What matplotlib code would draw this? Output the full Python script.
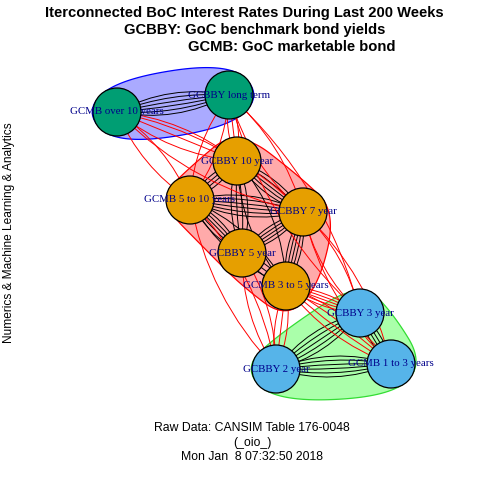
import matplotlib
matplotlib.use("Agg")
import matplotlib.pyplot as plt
import numpy as np
from matplotlib.patches import Circle, Polygon, PathPatch
from matplotlib.path import Path

# graph data
node_names = ["GCMB over 10 years", "GCBBY long term", "GCBBY 10 year",
              "GCMB 5 to 10 years", "GCBBY 7 year", "GCBBY 5 year",
              "GCMB 3 to 5 years", "GCBBY 3 year", "GCBBY 2 year",
              "GCMB 1 to 3 years"]
# layout coordinates (canvas pixels, y down)
node_x = [117, 229, 237, 190, 303, 242, 286, 360, 276, 391]
node_y = [112, 95, 161, 200, 212, 253, 286, 313, 369, 364]
node_group = [0, 0, 1, 1, 1, 1, 1, 2, 2, 2]

# multi-edges: from, to, number of parallel edges
edge_from = [0, 2, 2, 2, 2, 3, 3, 3, 4, 4, 5, 7, 8, 7,
             0, 0, 0, 1, 1, 1, 1, 6, 6, 6, 4, 4, 3, 5]
edge_to = [1, 3, 4, 5, 6, 4, 5, 6, 5, 6, 6, 8, 9, 9,
           2, 3, 4, 2, 3, 4, 7, 7, 9, 8, 7, 9, 8, 8]
edge_count = [6, 4, 5, 4, 2, 6, 5, 2, 5, 5, 3, 5, 6, 4,
              3, 2, 2, 3, 2, 2, 2, 5, 4, 3, 2, 2, 2, 2]

title_lines = ["Iterconnected BoC Interest Rates During Last 200 Weeks",
               "GCBBY: GoC benchmark bond yields",
               "GCMB: GoC marketable bond"]
sub_lines = ["Raw Data: CANSIM Table 176-0048", "(_oio_)", "Mon Jan  8 07:32:50 2018"]
y_label = "Numerics & Machine Learning & Analytics"

group_node_col = ["#009E73", "#E69F00", "#56B4E9"]
group_fill = ["#0000FF55", "#FF000055", "#00FF0055"]
group_border = ["blue", "red", "#33DD33"]

NODE_R = 24
HULL_R = 33


def convex_hull(pts):
    pts = sorted(set(pts))
    def cross(o, a, b):
        return (a[0] - o[0]) * (b[1] - o[1]) - (a[1] - o[1]) * (b[0] - o[0])
    lower, upper = [], []
    for p in pts:
        while len(lower) >= 2 and cross(lower[-2], lower[-1], p) <= 0:
            lower.pop()
        lower.append(p)
    for p in reversed(pts):
        while len(upper) >= 2 and cross(upper[-2], upper[-1], p) <= 0:
            upper.pop()
        upper.append(p)
    return lower[:-1] + upper[:-1]


def chaikin(poly, n_iter=5):
    p = np.asarray(poly, dtype=float)
    for _ in range(n_iter):
        q = np.roll(p, -1, axis=0)
        a = 0.75 * p + 0.25 * q
        b = 0.25 * p + 0.75 * q
        p = np.empty((2 * len(a), 2))
        p[0::2] = a
        p[1::2] = b
    return p


fig = plt.figure(figsize=(4.8, 4.8), dpi=100)
ax = fig.add_axes([0, 0, 1, 1])
ax.set_xlim(0, 480)
ax.set_ylim(480, 0)
ax.axis("off")

# group hulls
for g in range(3):
    pts = []
    for x, y, gg in zip(node_x, node_y, node_group):
        if gg != g:
            continue
        pts += [(x, y), (x - HULL_R, y), (x + HULL_R, y), (x, y - HULL_R), (x, y + HULL_R)]
    hull = chaikin(convex_hull(pts))
    ax.add_patch(Polygon(hull, closed=True, facecolor=group_fill[g],
                         edgecolor=group_border[g], lw=0.9, zorder=1))

# edges
for a, b, n in zip(edge_from, edge_to, edge_count):
    x0, y0, x1, y1 = node_x[a], node_y[a], node_x[b], node_y[b]
    col = "black" if node_group[a] == node_group[b] else "red"
    xm, ym = (x0 + x1) / 2, (y0 + y1) / 2
    px, py = -(y1 - y0), (x1 - x0)
    curvs = np.linspace(-0.5, 0.5, n) if n > 1 else [0.0]
    k = 0.36 if col == "black" else 0.3
    for c in curvs:
        ctrl = (xm + c * k * px, ym + c * k * py)
        path = Path([(x0, y0), ctrl, (x1, y1)], [Path.MOVETO, Path.CURVE3, Path.CURVE3])
        ax.add_patch(PathPatch(path, facecolor="none", edgecolor=col, lw=0.7, zorder=2))

# nodes and labels
for name, x, y, g in zip(node_names, node_x, node_y, node_group):
    ax.add_patch(Circle((x, y), NODE_R, facecolor=group_node_col[g],
                        edgecolor="black", lw=0.9, zorder=3))
    ax.text(x, y, name, ha="center", va="center", color="#00008B",
            family="Liberation Serif", fontsize=7.8, zorder=4)

# titles
for txt, cx, cy in zip(title_lines, [244, 255, 292], [13, 30, 47]):
    ax.text(cx, cy, txt, ha="center", va="center", fontsize=10.6,
            fontweight="bold", family="Liberation Sans")
for txt, cy in zip(sub_lines, [428, 443, 457]):
    ax.text(252, cy, txt, ha="center", va="center", fontsize=8.8, family="Liberation Sans")
ax.text(9, 233, y_label, ha="center", va="center", rotation=90,
        fontsize=8.6, family="Liberation Sans")

fig.savefig("out.png", dpi=100)
